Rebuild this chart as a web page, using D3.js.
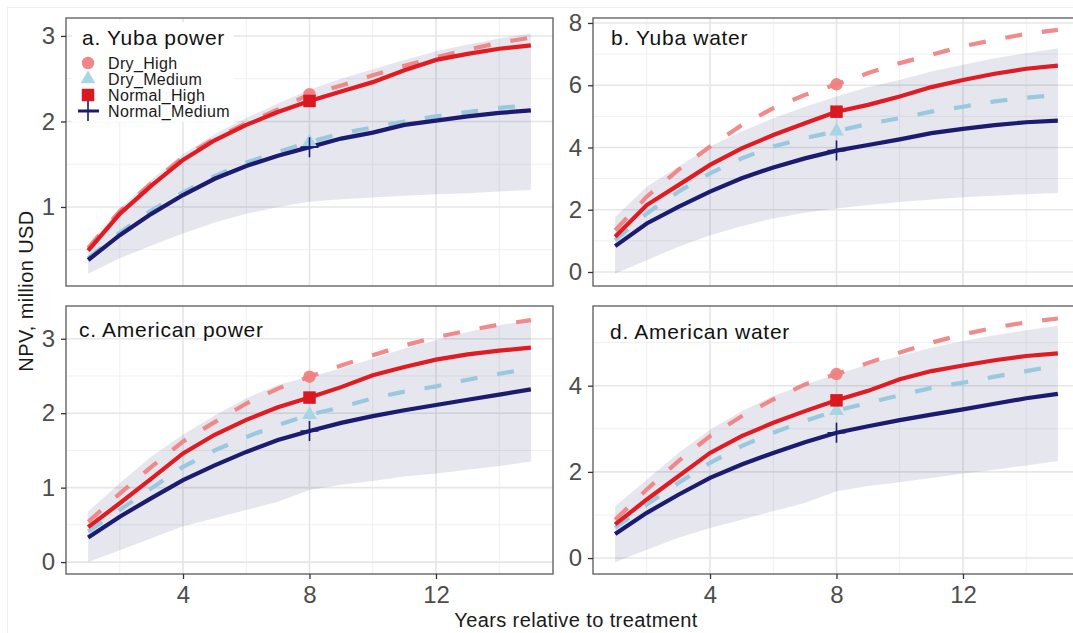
<!DOCTYPE html>
<html lang="en">
<head>
<meta charset="utf-8">
<title>NPV, years relative to treatment</title>
<script src="https://d3js.org/d3.v7.min.js"></script>
<style type="text/css">
    body {
        margin: 0;
        background-color: #fff;
    }
    svg {
        display: block;
        font-family: "Liberation Sans", Arial, sans-serif;
    }
</style>
</head>
<body>
<script type="text/javascript">

    //Years on the x axis
    var years = [1, 2, 3, 4, 5, 6, 7, 8, 9, 10, 11, 12, 13, 14, 15];
    var markerYear = 8;
    var xTicks = [4, 8, 12];
    var xMinor = [2, 6, 10, 14];

    var seriesNames = ["Dry_High", "Dry_Medium", "Normal_High", "Normal_Medium"];

    //a. Yuba power
    var yubaPowerDryHigh = [0.52, 0.95, 1.28, 1.58, 1.80, 1.98, 2.14, 2.32, 2.42, 2.54, 2.65, 2.75, 2.84, 2.92, 2.98];
    var yubaPowerDryMedium = [0.40, 0.70, 0.96, 1.17, 1.36, 1.52, 1.64, 1.76, 1.86, 1.93, 2.00, 2.06, 2.11, 2.16, 2.19];
    var yubaPowerNormalHigh = [0.49, 0.92, 1.25, 1.55, 1.78, 1.96, 2.11, 2.24, 2.35, 2.46, 2.60, 2.72, 2.79, 2.85, 2.89];
    var yubaPowerNormalMedium = [0.38, 0.67, 0.92, 1.14, 1.33, 1.48, 1.60, 1.70, 1.80, 1.87, 1.96, 2.01, 2.06, 2.10, 2.13];
    var yubaPowerUpper = [0.56, 0.98, 1.32, 1.62, 1.85, 2.04, 2.21, 2.37, 2.50, 2.61, 2.72, 2.82, 2.90, 2.97, 3.03];
    var yubaPowerLower = [0.22, 0.40, 0.55, 0.69, 0.82, 0.92, 1.00, 1.06, 1.09, 1.11, 1.13, 1.15, 1.16, 1.18, 1.20];

    //b. Yuba water
    var yubaWaterDryHigh = [1.34, 2.42, 3.28, 4.03, 4.72, 5.26, 5.69, 6.03, 6.39, 6.71, 6.98, 7.25, 7.46, 7.65, 7.78];
    var yubaWaterDryMedium = [1.02, 1.88, 2.58, 3.17, 3.65, 4.03, 4.30, 4.52, 4.76, 4.94, 5.15, 5.31, 5.48, 5.60, 5.69];
    var yubaWaterNormalHigh = [1.13, 2.15, 2.79, 3.44, 3.97, 4.40, 4.78, 5.15, 5.37, 5.64, 5.94, 6.17, 6.37, 6.53, 6.63];
    var yubaWaterNormalMedium = [0.83, 1.56, 2.09, 2.58, 3.01, 3.36, 3.65, 3.90, 4.08, 4.26, 4.46, 4.60, 4.72, 4.81, 4.86];
    var yubaWaterUpper = [1.77, 2.74, 3.38, 4.03, 4.51, 4.94, 5.31, 5.64, 5.94, 6.17, 6.44, 6.66, 6.87, 7.03, 7.19];
    var yubaWaterLower = [-0.05, 0.38, 0.81, 1.18, 1.47, 1.72, 1.90, 2.04, 2.15, 2.25, 2.33, 2.40, 2.45, 2.50, 2.54];

    //c. American power
    var amPowerDryHigh = [0.54, 0.92, 1.28, 1.62, 1.88, 2.13, 2.33, 2.49, 2.64, 2.78, 2.91, 3.02, 3.11, 3.19, 3.25];
    var amPowerDryMedium = [0.41, 0.70, 0.99, 1.28, 1.50, 1.68, 1.84, 1.98, 2.08, 2.20, 2.29, 2.36, 2.45, 2.53, 2.60];
    var amPowerNormalHigh = [0.47, 0.79, 1.12, 1.46, 1.71, 1.91, 2.08, 2.21, 2.35, 2.51, 2.62, 2.72, 2.79, 2.84, 2.88];
    var amPowerNormalMedium = [0.33, 0.61, 0.86, 1.10, 1.30, 1.48, 1.64, 1.76, 1.87, 1.96, 2.04, 2.11, 2.18, 2.25, 2.32];
    var amPowerUpper = [0.68, 1.06, 1.42, 1.71, 1.97, 2.20, 2.38, 2.49, 2.60, 2.73, 2.87, 2.98, 3.09, 3.18, 3.25];
    var amPowerLower = [0.00, 0.16, 0.32, 0.48, 0.59, 0.70, 0.81, 0.97, 1.04, 1.09, 1.15, 1.19, 1.24, 1.29, 1.35];

    //d. American water
    var amWaterDryHigh = [0.89, 1.59, 2.25, 2.83, 3.29, 3.68, 4.03, 4.27, 4.53, 4.77, 5.00, 5.19, 5.35, 5.47, 5.56];
    var amWaterDryMedium = [0.70, 1.24, 1.74, 2.21, 2.60, 2.91, 3.18, 3.42, 3.60, 3.78, 3.95, 4.07, 4.21, 4.34, 4.47];
    var amWaterNormalHigh = [0.78, 1.36, 1.90, 2.44, 2.83, 3.14, 3.41, 3.66, 3.88, 4.15, 4.34, 4.47, 4.59, 4.69, 4.75];
    var amWaterNormalMedium = [0.56, 1.05, 1.47, 1.86, 2.17, 2.44, 2.69, 2.91, 3.06, 3.20, 3.33, 3.45, 3.58, 3.71, 3.81];
    var amWaterUpper = [1.20, 1.82, 2.44, 2.98, 3.41, 3.76, 4.03, 4.26, 4.50, 4.69, 4.88, 5.04, 5.17, 5.29, 5.39];
    var amWaterLower = [-0.10, 0.19, 0.47, 0.70, 0.89, 1.09, 1.28, 1.55, 1.67, 1.76, 1.86, 1.96, 2.05, 2.15, 2.25];

    //y ticks per panel
    var yTicksA = [1, 2, 3];
    var yTicksB = [0, 2, 4, 6, 8];
    var yTicksC = [0, 1, 2, 3];
    var yTicksD = [0, 2, 4];
    var yMinorA = [0.5, 1.5, 2.5];
    var yMinorB = [1, 3, 5, 7];
    var yMinorC = [0.5, 1.5, 2.5];
    var yMinorD = [1, 3, 5];

    var panels = [
        { title: "a. Yuba power", col: 0, row: 0, yDomain: [0.076, 3.21], yTicks: yTicksA, yMinor: yMinorA,
          series: [yubaPowerDryHigh, yubaPowerDryMedium, yubaPowerNormalHigh, yubaPowerNormalMedium],
          upper: yubaPowerUpper, lower: yubaPowerLower, legend: true, titleDx: 16, titleDy: 27 },
        { title: "b. Yuba water", col: 1, row: 0, yDomain: [-0.45, 8.16], yTicks: yTicksB, yMinor: yMinorB,
          series: [yubaWaterDryHigh, yubaWaterDryMedium, yubaWaterNormalHigh, yubaWaterNormalMedium],
          upper: yubaWaterUpper, lower: yubaWaterLower, titleDx: 18, titleDy: 27 },
        { title: "c. American power", col: 0, row: 1, yDomain: [-0.16, 3.44], yTicks: yTicksC, yMinor: yMinorC,
          series: [amPowerDryHigh, amPowerDryMedium, amPowerNormalHigh, amPowerNormalMedium],
          upper: amPowerUpper, lower: amPowerLower, titleDx: 13, titleDy: 31 },
        { title: "d. American water", col: 1, row: 1, yDomain: [-0.37, 5.85], yTicks: yTicksD, yMinor: yMinorD,
          series: [amWaterDryHigh, amWaterDryMedium, amWaterNormalHigh, amWaterNormalMedium],
          upper: amWaterUpper, lower: amWaterLower, titleDx: 17, titleDy: 33 }
    ];

    //Layout
    var w = 1073;
    var h = 633;
    var colX = [[66, 553], [593, 1080]];
    var rowY = [[18, 286], [306, 574]];
    var xDomain = [0.3, 15.7];

    //Styles per series: Dry_High, Dry_Medium, Normal_High, Normal_Medium
    var lineColor = ["#f08080", "#9ac8df", "#e01b22", "#1b1b6f"];
    var lineDash = ["17,20", "17,20", null, null];
    var drawOrder = [0, 1, 2, 3];

    var svg = d3.select("body")
                .append("svg")
                .attr("width", w)
                .attr("height", h);

    //faint frame of the original figure
    svg.append("line").attr("x1", 7.5).attr("x2", 7.5).attr("y1", 7).attr("y2", h)
       .style("stroke", "#eeeeee");
    svg.append("line").attr("x1", 7).attr("x2", w).attr("y1", 7.5).attr("y2", 7.5)
       .style("stroke", "#eeeeee");

    function markerPath(i) {
        if (i == 0) return d3.symbol().type(d3.symbolCircle).size(121)();
        if (i == 1) return d3.symbol().type(d3.symbolTriangle).size(95)();
        if (i == 2) return d3.symbol().type(d3.symbolSquare).size(156)();
        return "M-9,0H9M0,-10V10";
    }

    function drawMarker(g, i, cx, cy) {
        var m = g.append("path")
                 .attr("d", markerPath(i))
                 .attr("transform", "translate(" + cx + "," + cy + ")");
        if (i == 0) m.style("fill", "#f08080").style("opacity", 0.95);
        if (i == 1) m.style("fill", "#a8d5e6");
        if (i == 2) m.style("fill", "#d9191f");
        if (i == 3) m.style("fill", "none").style("stroke", "#1b1b6f").style("stroke-width", 1.6);
        return m;
    }

    panels.forEach(function(p, pi) {

        var x0 = colX[p.col][0], x1 = colX[p.col][1];
        var y0 = rowY[p.row][0], y1 = rowY[p.row][1];

        var x = d3.scaleLinear().domain(xDomain).range([x0, x1]);
        var y = d3.scaleLinear().domain(p.yDomain).range([y1, y0]);

        svg.append("clipPath")
           .attr("id", "clip" + pi)
           .append("rect")
           .attr("x", x0).attr("y", y0)
           .attr("width", x1 - x0).attr("height", y1 - y0);

        var g = svg.append("g").attr("clip-path", "url(#clip" + pi + ")");

        //minor grid
        g.selectAll(".minx").data(xMinor).enter().append("line")
         .attr("x1", function(d) { return x(d); }).attr("x2", function(d) { return x(d); })
         .attr("y1", y0).attr("y2", y1)
         .style("stroke", "#f0f0f0").style("stroke-width", 1);
        g.selectAll(".miny").data(p.yMinor).enter().append("line")
         .attr("y1", function(d) { return y(d); }).attr("y2", function(d) { return y(d); })
         .attr("x1", x0).attr("x2", x1)
         .style("stroke", "#f0f0f0").style("stroke-width", 1);

        //major grid
        g.selectAll(".majx").data(xTicks).enter().append("line")
         .attr("x1", function(d) { return x(d); }).attr("x2", function(d) { return x(d); })
         .attr("y1", y0).attr("y2", y1)
         .style("stroke", "#e6e6e6").style("stroke-width", 1.6);
        g.selectAll(".majy").data(p.yTicks).enter().append("line")
         .attr("y1", function(d) { return y(d); }).attr("y2", function(d) { return y(d); })
         .attr("x1", x0).attr("x2", x1)
         .style("stroke", "#e6e6e6").style("stroke-width", 1.6);

        //ribbon
        var area = d3.area()
                     .x(function(d, i) { return x(years[i]); })
                     .y0(function(d, i) { return y(p.lower[i]); })
                     .y1(function(d, i) { return y(p.upper[i]); });
        g.append("path")
         .datum(p.upper)
         .attr("d", area)
         .style("fill", "#191970")
         .style("fill-opacity", 0.11);

        //lines
        var line = d3.line()
                     .x(function(d, i) { return x(years[i]); })
                     .y(function(d) { return y(d); });
        drawOrder.forEach(function(si) {
            g.append("path")
             .datum(p.series[si])
             .attr("d", line)
             .style("fill", "none")
             .style("stroke", lineColor[si])
             .style("stroke-width", 4.2)
             .style("stroke-dasharray", lineDash[si])
             .style("stroke-opacity", si == 0 ? 0.92 : 1);
        });

        //markers at year 8
        var mi = years.indexOf(markerYear);
        [1, 0, 2, 3].forEach(function(si) {
            drawMarker(g, si, x(markerYear), y(p.series[si][mi]));
        });

        //legend (panel a only)
        if (p.legend) {
            svg.append("rect")
               .attr("x", x0 + 6).attr("y", y0 + 4)
               .attr("width", 162).attr("height", 100)
               .style("fill", "#fff").style("opacity", 0.92);
            var rows = [63, 79, 95, 111];
            seriesNames.forEach(function(name, si) {
                if (si == 3) {
                    svg.append("line")
                       .attr("x1", x0 + 12).attr("x2", x0 + 33)
                       .attr("y1", rows[si]).attr("y2", rows[si])
                       .style("stroke", "#1b1b6f").style("stroke-width", 3);
                }
                drawMarker(svg, si, x0 + 22, rows[si]);
                svg.append("text")
                   .attr("x", x0 + 42).attr("y", rows[si])
                   .attr("dy", "0.35em")
                   .style("font-size", "16px")
                   .style("letter-spacing", "0.35px")
                   .style("fill", "#1a1a1a")
                   .text(name);
            });
        }

        //panel title
        svg.append("text")
           .attr("x", x0 + p.titleDx).attr("y", y0 + p.titleDy)
           .style("font-size", "21px")
           .style("letter-spacing", "0.7px")
           .style("fill", "#111")
           .text(p.title);

        //border
        svg.append("rect")
           .attr("x", x0).attr("y", y0)
           .attr("width", x1 - x0).attr("height", y1 - y0)
           .style("fill", "none")
           .style("stroke", "#595959")
           .style("stroke-width", 1.3);

        //y axis
        var yAxis = svg.append("g")
                       .attr("transform", "translate(" + x0 + ",0)")
                       .call(d3.axisLeft(y).tickValues(p.yTicks).tickSize(5).tickPadding(6)
                               .tickFormat(d3.format("d")));
        yAxis.select(".domain").remove();

        //x axis (bottom row)
        if (p.row == 1) {
            var xAxis = svg.append("g")
                           .attr("transform", "translate(0," + y1 + ")")
                           .call(d3.axisBottom(x).tickValues(xTicks).tickSize(5).tickPadding(7));
            xAxis.select(".domain").remove();
        }
    });

    svg.selectAll(".tick line").style("stroke", "#333").style("stroke-width", 1.3);
    svg.selectAll(".tick text")
       .style("font-size", "24px")
       .style("fill", "#4d4d4d")
       .style("font-family", "'Liberation Sans', Arial, sans-serif");

    //axis titles
    svg.append("text")
       .attr("x", 576).attr("y", 627)
       .attr("text-anchor", "middle")
       .style("font-size", "20px")
       .style("letter-spacing", "0.4px")
       .style("fill", "#1a1a1a")
       .text("Years relative to treatment");

    svg.append("text")
       .attr("transform", "translate(33,291) rotate(-90)")
       .attr("text-anchor", "middle")
       .style("font-size", "20px")
       .style("letter-spacing", "0.4px")
       .style("fill", "#1a1a1a")
       .text("NPV, million USD");

</script>
</body>
</html>
